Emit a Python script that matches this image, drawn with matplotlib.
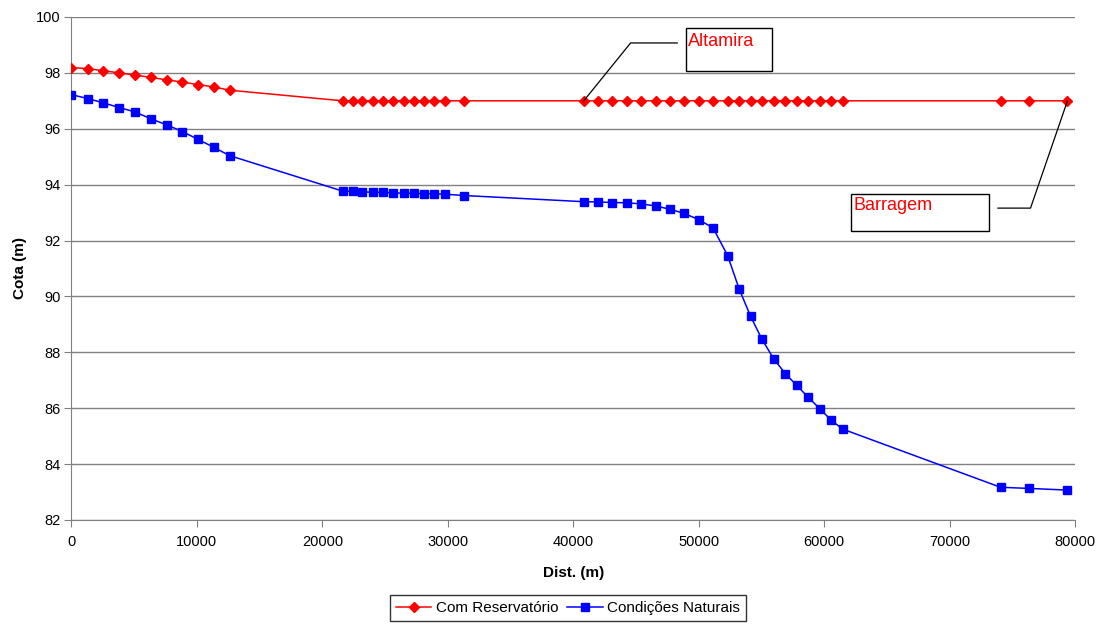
import matplotlib
matplotlib.use('Agg')
import matplotlib.pyplot as plt
from matplotlib.patches import Rectangle

plt.rcParams['font.family'] = ['Liberation Sans', 'DejaVu Sans']

# distances (m)
dist = [0, 1300, 2520, 3800, 5070, 6310, 7580, 8850, 10080, 11330, 12600,
        21610, 22410, 23200, 24000, 24840, 25670, 26470, 27290, 28110, 28940, 29740, 31330,
        40840, 41980, 43120, 44280, 45400, 46570, 47700, 48850, 50040, 51150,
        52310, 53240, 54140, 55040, 55980, 56920, 57810, 58690, 59660, 60560, 61490,
        74070, 76300, 79400]

com_reservatorio = [98.19, 98.15, 98.08, 98.00, 97.92, 97.84, 97.75, 97.67, 97.58, 97.50, 97.38,
                    97.0, 97.0, 97.0, 97.0, 97.0, 97.0, 97.0, 97.0, 97.0, 97.0, 97.0, 97.0,
                    97.0, 97.0, 97.0, 97.0, 97.0, 97.0, 97.0, 97.0, 97.0, 97.0,
                    97.0, 97.0, 97.0, 97.0, 97.0, 97.0, 97.0, 97.0, 97.0, 97.0, 97.0,
                    97.0, 97.0, 97.0]

condicoes_naturais = [97.22, 97.08, 96.93, 96.76, 96.60, 96.36, 96.14, 95.90, 95.62, 95.34, 95.04,
                      93.77, 93.76, 93.74, 93.73, 93.72, 93.71, 93.69, 93.69, 93.68, 93.67, 93.66, 93.61,
                      93.39, 93.38, 93.36, 93.35, 93.31, 93.24, 93.12, 92.97, 92.74, 92.45,
                      91.46, 90.25, 89.29, 88.47, 87.77, 87.23, 86.82, 86.41, 85.98, 85.57, 85.25,
                      83.17, 83.13, 83.07]

x_ticks = [0, 10000, 20000, 30000, 40000, 50000, 60000, 70000, 80000]
y_ticks = [82, 84, 86, 88, 90, 92, 94, 96, 98, 100]

fig = plt.figure(figsize=(11.03, 6.24), dpi=100)
ax = fig.add_axes([0.0648, 0.1667, 0.9098, 0.8061])

ax.plot(dist, com_reservatorio, color='#FF0000', lw=1.1, marker='D', ms=5,
        label='Com Reservatório', zorder=3)
ax.plot(dist, condicoes_naturais, color='#0000FF', lw=1.1, marker='s', ms=6.2,
        label='Condições Naturais', zorder=3)

ax.set_xlim(0, 80000)
ax.set_ylim(82, 100)
ax.set_xticks(x_ticks)
ax.set_yticks(y_ticks)
ax.yaxis.grid(True, color='#808080', lw=1)
ax.set_axisbelow(True)
for s in ['top', 'right']:
    ax.spines[s].set_visible(False)
for s in ['left', 'bottom']:
    ax.spines[s].set_color('#808080')
ax.tick_params(axis='both', direction='out', length=5, color='#808080', labelsize=10.5)
ax.tick_params(axis='x', pad=6)
ax.tick_params(axis='y', pad=3)

ax.set_xlabel('Dist. (m)', fontsize=11, fontweight='bold', labelpad=12)
ax.set_ylabel('Cota (m)', fontsize=11, fontweight='bold', labelpad=6)

# callouts
ax.add_patch(Rectangle((48975, 98.07), 6855, 1.54, fill=False, ec='black', lw=1, clip_on=False, zorder=4))
ax.text(49150, 99.42, 'Altamira', color='#FF0000', fontsize=13, va='top', ha='left')
ax.annotate('', xy=(dist[23], com_reservatorio[23]), xytext=(48310, 99.07),
            arrowprops=dict(arrowstyle='-', color='black', lw=0.9, shrinkA=0, shrinkB=0,
                            connectionstyle='angle,angleA=0,angleB=51'), annotation_clip=False)

ax.add_patch(Rectangle((62180, 92.34), 11000, 1.34, fill=False, ec='black', lw=1, clip_on=False, zorder=4))
ax.text(62350, 93.56, 'Barragem', color='#FF0000', fontsize=13, va='top', ha='left')
ax.annotate('', xy=(dist[-1], com_reservatorio[-1]), xytext=(73840, 93.16),
            arrowprops=dict(arrowstyle='-', color='black', lw=0.9, shrinkA=0, shrinkB=0,
                            connectionstyle='angle,angleA=0,angleB=71'), annotation_clip=False)

leg = fig.legend(loc='upper center', bbox_to_anchor=(0.515, 0.0465), bbox_transform=fig.transFigure,
                 ncol=2, fontsize=11, frameon=True, fancybox=False, edgecolor='black',
                 handlelength=2.3, columnspacing=0.6, handletextpad=0.3, borderpad=0.4,
                 borderaxespad=0)
leg.get_frame().set_linewidth(1)

fig.savefig('out.png', dpi=100)
